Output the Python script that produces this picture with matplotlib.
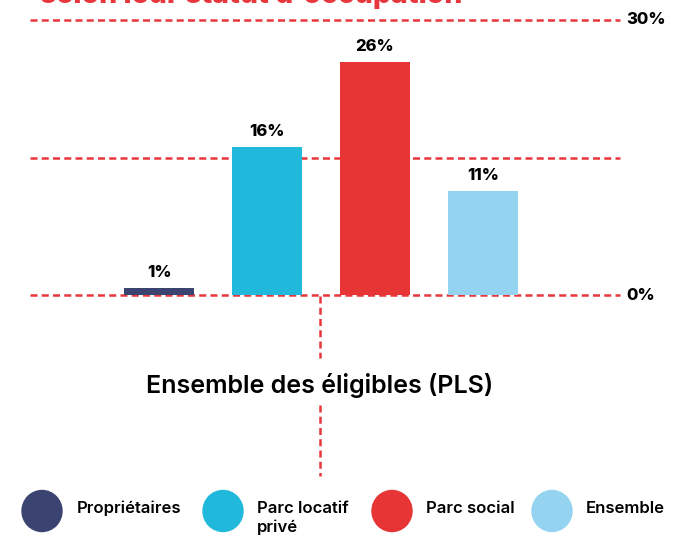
import matplotlib
matplotlib.use("Agg")
import matplotlib.pyplot as plt
from matplotlib.patches import Ellipse
from matplotlib.lines import Line2D

# data
categories = ["Propriétaires", "Parc locatif\nprivé", "Parc social", "Ensemble"]
values = [0.8, 16.2, 25.4, 11.4]
value_labels = ["1%", "16%", "26%", "11%"]
colors = ["#3b4470", "#20b9dc", "#e73434", "#95d4f1"]
grid_values = [0, 15, 30]
grid_labels = {0: "0%", 30: "30%"}
group_label = "Ensemble des éligibles (PLS)"
title = "selon leur statut d'occupation"

RED = "#e8373c"
W, H = 694, 537
plt.rcParams['font.family'] = ['Inter', 'DejaVu Sans']

fig = plt.figure(figsize=(W / 100, H / 100), dpi=100)

def px(x, y):
    return x / W, 1 - y / H

# main plot area: x 30..620 px, y 0% at 295 px, 30% at 20 px
ax = fig.add_axes([30 / W, (H - 295) / H, 590 / W, 275 / H])
step = 108.0
x0 = (159 - 30) / step
ax.set_xlim(-x0, -x0 + 590 / step)
ax.set_ylim(0, 30)
ax.axis("off")

xs = list(range(len(values)))
ax.bar(xs, values, width=70 / step, color=colors, zorder=3)
for x, v, lab in zip(xs, values, value_labels):
    ax.annotate(lab, (x, v), xytext=(0, 8), textcoords="offset pixels",
                ha="center", va="bottom", fontsize=12, fontweight="heavy",
                zorder=4)

for g in grid_values:
    ax.axhline(g, color=RED, lw=1.8, linestyle=(0, (2.8, 1.7)),
               clip_on=False, zorder=2)
    if g in grid_labels:
        ax.annotate(grid_labels[g], (1, g), xycoords=("axes fraction", "data"),
                    xytext=(6, 0), textcoords="offset pixels",
                    ha="left", va="center", fontsize=12, fontweight="heavy")

# vertical connector and group label
xc = 320
for y1, y2 in [(296, 358), (405, 476)]:
    (a, b), (c, d) = px(xc, y1), px(xc, y2)
    fig.add_artist(Line2D([a, c], [b, d], color=RED, lw=1.8,
                          linestyle=(0, (2.8, 1.7))))
fig.text(*px(xc, 385), group_label, ha="center", va="center",
         fontsize=18, fontweight="semibold")

# clipped title at the very top
fig.text(*px(40, 3), title, ha="left", va="baseline", color=RED,
         fontsize=20.5, fontweight="heavy")

# legend
circle_x = [42, 223, 392, 552]
text_x = [77, 257, 426, 586]
for cx, tx, lab, col in zip(circle_x, text_x, categories, colors):
    fig.add_artist(Ellipse(px(cx, 511), 40 / W, 41 / H, color=col,
                           transform=fig.transFigure))
    fig.text(*px(tx, 501), lab, ha="left", va="top", fontsize=12,
             fontweight="semibold", linespacing=1.3)

fig.savefig("out.png", dpi=100)
